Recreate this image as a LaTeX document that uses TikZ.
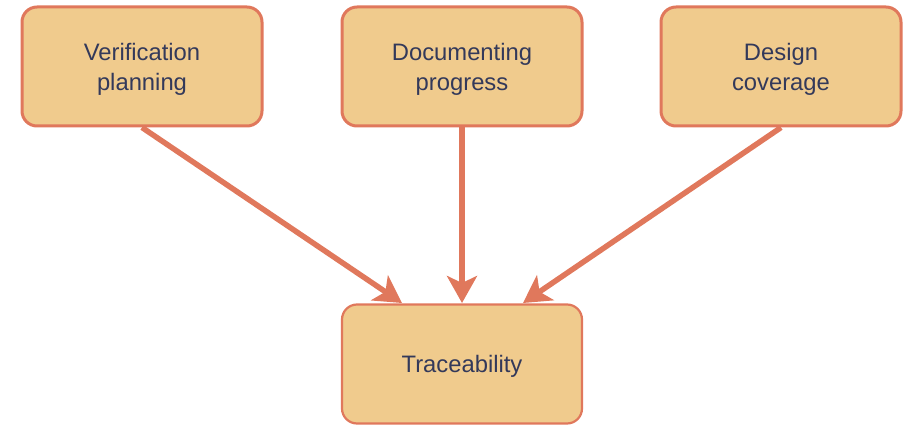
\documentclass[tikz,border=0pt]{standalone}
\usepackage{fontspec}
\setmainfont{Liberation Sans}
\usetikzlibrary{arrows.meta}
\definecolor{boxfill}{HTML}{F0CB8D}
\definecolor{boxline}{HTML}{E0785C}
\definecolor{txt}{HTML}{33395A}
\tikzset{
  card/.style={draw=boxline, fill=boxfill, rounded corners=15pt, minimum width=240pt, minimum height=119pt, inner sep=0pt},
  topcard/.style={card, line width=3pt},
  botcard/.style={card, line width=2.2pt},
  lbl/.style={align=center, text=txt, font=\fontsize{23.8pt}{30pt}\selectfont, inner sep=0pt},
  link/.style={draw=boxline, line width=5.5pt, -{Stealth[length=27pt, width=30pt, inset=7pt]}}
}
\begin{document}
\begin{tikzpicture}[x=1pt, y=-1pt]
\useasboundingbox (0,0) rectangle (908,425);
\node[topcard] (vp) at (142,66.5) {};
\node[topcard] (dp) at (462,66.5) {};
\node[topcard] (dc) at (781,66.5) {};
\node[botcard] (tr) at (462,364) {};
\node[lbl] (vpt) at (142,69) {Verification\\planning};
\node[lbl] (dpt) at (462,69) {Documenting\\progress};
\node[lbl] (dct) at (781,69) {Design\\coverage};
\node[lbl] (trt) at (462,366) {Traceability};
\coordinate (t1) at (402,303);
\coordinate (t2) at (462,303);
\coordinate (t3) at (523,303);
\draw[link] (vp.south) -- (t1);
\draw[link] (dp.south) -- (t2);
\draw[link] (dc.south) -- (t3);
\end{tikzpicture}
\end{document}
